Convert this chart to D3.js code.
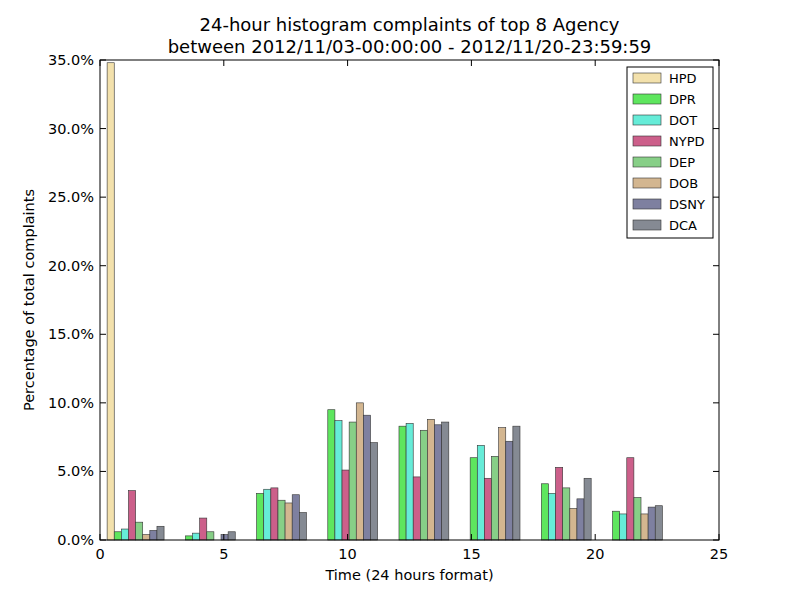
<!DOCTYPE html>
<html><head><meta charset="utf-8">
<script src="https://cdn.jsdelivr.net/npm/d3@7"></script>
<style>body{margin:0;background:#fff}svg{font-family:"DejaVu Sans",sans-serif}</style>
</head><body><svg id="c" width="800" height="600"></svg>
<script>
'use strict'
const agencies = ["HPD","DPR","DOT","NYPD","DEP","DOB","DSNY","DCA"];
const colors = ["#f3e1ac","#5ee65e","#66ecd8","#cc5f8a","#87cf87","#d3b690","#7e80a0","#858a93"];
const binStarts = [0,2.875,5.75,8.625,11.5,14.375,17.25,20.125];
const binWidth = 2.875;
const values = [
  [34.8,0,0,0,0,0,0,0],
  [0.6,0.3,3.4,9.5,8.3,6.0,4.1,2.1],
  [0.8,0.5,3.7,8.7,8.5,6.9,3.4,1.9],
  [3.6,1.6,3.8,5.1,4.6,4.5,5.3,6.0],
  [1.3,0.6,2.9,8.6,8.0,6.1,3.8,3.1],
  [0.4,0,2.7,10.0,8.8,8.2,2.3,1.9],
  [0.7,0.4,3.3,9.1,8.4,7.2,3.0,2.4],
  [1.0,0.6,2.0,7.1,8.6,8.3,4.5,2.5]
];
const xTicks = [0,5,10,15,20,25];
const yTicks = [0,5,10,15,20,25,30,35];

const svg = d3.select("#c");
const L=100,R=719,T=60,B=540;
const x = d3.scaleLinear().domain([0,25]).range([L,R]);
const y = d3.scaleLinear().domain([0,35]).range([B,T]);
const bw = binWidth*0.8/agencies.length;

agencies.forEach((a,i)=>{
  svg.append("g").selectAll("rect").data(values[i].map((v,j)=>({v,s:binStarts[j]})))
    .enter().append("rect")
    .attr("x",d=>x(d.s+binWidth*0.1+i*bw))
    .attr("width",x(bw)-x(0))
    .attr("y",d=>y(d.v))
    .attr("height",d=>y(0)-y(d.v))
    .attr("fill",colors[i]).attr("stroke","#333").attr("stroke-width",0.6);
});

svg.append("rect").attr("x",L).attr("y",T).attr("width",R-L).attr("height",B-T)
  .attr("fill","none").attr("stroke","#000");

const xa = svg.append("g");
xTicks.forEach(t=>{
  xa.append("line").attr("x1",x(t)).attr("x2",x(t)).attr("y1",B).attr("y2",B-6).attr("stroke","#000");
  xa.append("line").attr("x1",x(t)).attr("x2",x(t)).attr("y1",T).attr("y2",T+6).attr("stroke","#000");
  xa.append("text").attr("x",x(t)).attr("y",B+19).attr("text-anchor","middle").attr("font-size",14.5).text(t);
});
yTicks.forEach(t=>{
  xa.append("line").attr("x1",L).attr("x2",L+6).attr("y1",y(t)).attr("y2",y(t)).attr("stroke","#000");
  xa.append("line").attr("x1",R).attr("x2",R-6).attr("y1",y(t)).attr("y2",y(t)).attr("stroke","#000");
  xa.append("text").attr("x",L-6).attr("y",y(t)+5).attr("text-anchor","end").attr("font-size",14.5).text(t.toFixed(1)+"%");
});

svg.append("text").attr("x",(L+R)/2).attr("y",580).attr("text-anchor","middle").attr("font-size",14.5).text("Time (24 hours format)");
svg.append("text").attr("transform",`translate(34,${(T+B)/2}) rotate(-90)`).attr("text-anchor","middle").attr("font-size",14.5).text("Percentage of total complaints");
svg.append("text").attr("x",(L+R)/2).attr("y",31).attr("text-anchor","middle").attr("font-size",18).text("24-hour histogram complaints of top 8 Agency");
svg.append("text").attr("x",(L+R)/2).attr("y",53).attr("text-anchor","middle").attr("font-size",18).text("between 2012/11/03-00:00:00 - 2012/11/20-23:59:59");

const lg = svg.append("g");
lg.append("rect").attr("x",627).attr("y",67).attr("width",86).attr("height",171).attr("fill","#fff").attr("stroke","#000");
agencies.forEach((a,i)=>{
  const yy = 73+i*21;
  lg.append("rect").attr("x",633).attr("y",yy).attr("width",28).attr("height",10).attr("fill",colors[i]).attr("stroke","#333").attr("stroke-width",0.6);
  lg.append("text").attr("x",669).attr("y",yy+10).attr("font-size",13).text(a);
});
</script></body></html>
